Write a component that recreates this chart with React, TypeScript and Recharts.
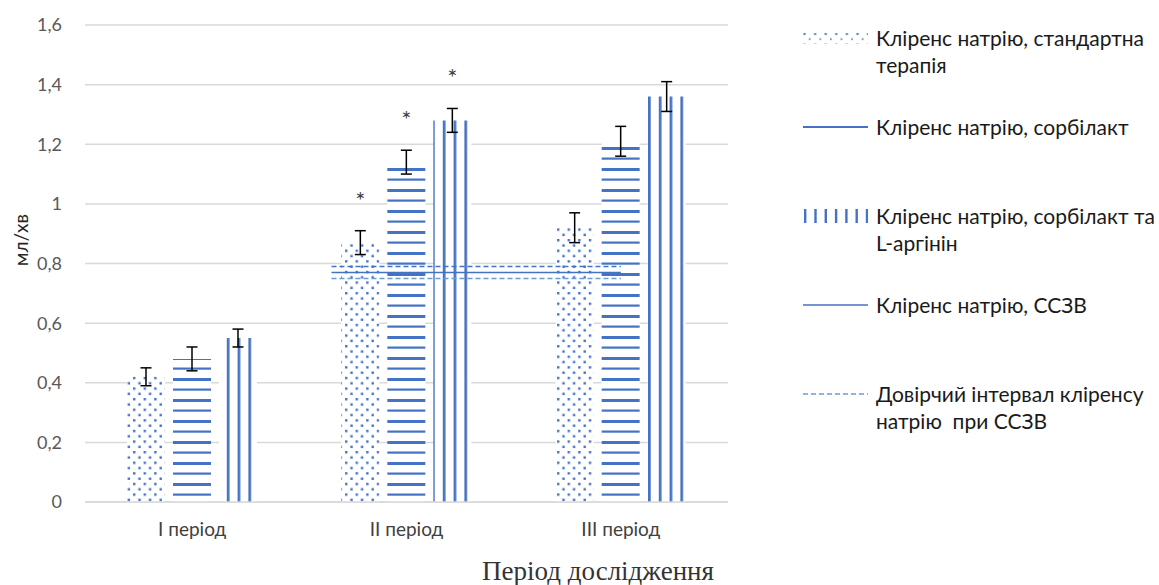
import React from 'react';
import { BarChart, Bar, XAxis, YAxis, CartesianGrid, ErrorBar, LabelList, ReferenceLine } from 'recharts';

const periods = ['I період', 'II період', 'III період'];

const standard = [0.42, 0.87, 0.92];
const standardErr = [0.03, 0.04, 0.05];
const standardMarks = ['', '*', ''];

const sorbilact = [0.48, 1.14, 1.21];
const sorbilactErr = [0.04, 0.04, 0.05];
const sorbilactMarks = ['', '*', ''];

const sorbilactArg = [0.55, 1.28, 1.36];
const sorbilactArgErr = [0.03, 0.04, 0.05];
const sorbilactArgMarks = ['', '*', ''];

// ССЗВ level and its confidence interval, drawn along part of the category axis (0..3)
const sszv = 0.77;
const sszvLow = 0.75;
const sszvHigh = 0.79;
const sszvFrom = 1.15;
const sszvTo = 2.5;

const yTicks = [0, 0.2, 0.4, 0.6, 0.8, 1, 1.2, 1.4, 1.6];

const legendItems = [
  { icon: 'dots', lines: ['Кліренс натрію, стандартна', 'терапія'] },
  { icon: 'hline', lines: ['Кліренс натрію, сорбілакт'] },
  { icon: 'vbars', lines: ['Кліренс натрію, сорбілакт та', 'L-аргінін'] },
  { icon: 'line', lines: ['Кліренс натрію, ССЗВ'] },
  { icon: 'dash', lines: ['Довірчий інтервал кліренсу', 'натрію  при ССЗВ'] },
];

const BLUE = '#4472C4';
const LIGHT_BLUE = '#6A9BD8';

const LegendIcon = ({ kind }: { kind: string }) => {
  if (kind === 'dots') {
    return (
      <svg width={65} height={12}>
        <rect x={0} y={0} width={65} height={12} fill="url(#dotsLegend)" />
      </svg>
    );
  }
  if (kind === 'vbars') {
    return (
      <svg width={65} height={14}>
        {[0, 1, 2, 3, 4, 5, 6].map(i => (
          <rect key={i} x={1 + i * 10.3} y={0} width={2.4} height={14} fill={BLUE} />
        ))}
      </svg>
    );
  }
  const stroke = kind === 'dash' ? LIGHT_BLUE : BLUE;
  return (
    <svg width={65} height={4}>
      <line x1={0} y1={2} x2={65} y2={2} stroke={stroke} strokeWidth={kind === 'hline' ? 2 : 1.6}
        strokeDasharray={kind === 'dash' ? '5 3' : undefined} />
    </svg>
  );
};

export default function App() {
  const data = periods.map((period, i) => ({
    period,
    pos: i + 0.5, // category centre on the hidden numeric axis
    standard: standard[i],
    standardErr: standardErr[i],
    standardMark: standardMarks[i],
    sorbilact: sorbilact[i],
    sorbilactErr: sorbilactErr[i],
    sorbilactMark: sorbilactMarks[i],
    sorbilactArg: sorbilactArg[i],
    sorbilactArgErr: sorbilactArgErr[i],
    sorbilactArgMark: sorbilactArgMarks[i],
  }));

  return (
    <div style={{ position: 'absolute', left: 0, top: 0, width: 1159, height: 585, background: '#fff', fontFamily: 'Lato, "Noto Sans", sans-serif' }}>
      <svg width={0} height={0} style={{ position: 'absolute' }}>
        <defs>
          <pattern id="dots" patternUnits="userSpaceOnUse" width={10.6} height={10.6}>
            <rect width={10.6} height={10.6} fill="#fff" />
            <rect x={0.5} y={0.5} width={2.4} height={2.4} fill={BLUE} />
            <rect x={5.8} y={5.8} width={2.4} height={2.4} fill={BLUE} />
          </pattern>
          <pattern id="dotsLegend" patternUnits="userSpaceOnUse" width={10.6} height={10.6}>
            <rect width={10.6} height={10.6} fill="#fff" />
            <rect x={0.5} y={1} width={2} height={2} fill={BLUE} />
            <rect x={5.8} y={6.3} width={1.6} height={1.6} fill={BLUE} />
          </pattern>
          <pattern id="hstripes" patternUnits="userSpaceOnUse" width={10} height={21}>
            <rect width={10} height={21} fill="#fff" />
            <rect x={0} y={0} width={10} height={3} fill={BLUE} />
            <rect x={0} y={10.5} width={10} height={2.2} fill={BLUE} />
          </pattern>
          <pattern id="vstripes" patternUnits="userSpaceOnUse" width={10.8} height={10}>
            <rect width={10.8} height={10} fill="#fff" />
            <rect x={0} y={0} width={2.7} height={10} fill={BLUE} />
          </pattern>
        </defs>
      </svg>

      <BarChart width={1159} height={585} data={data} margin={{ top: 25, right: 431, bottom: 3, left: 0 }}
        barSize={38} barGap={8}>
        <CartesianGrid vertical={false} stroke="#D9D9D9" strokeWidth={1.5} />
        <XAxis dataKey="period" height={80} interval={0} axisLine={{ stroke: '#D9D9D9', strokeWidth: 1.5 }}
          tickLine={false} tickSize={0} tickMargin={21} tick={{ fill: '#404040', fontSize: 19 }} />
        <XAxis xAxisId="num" dataKey="pos" type="number" domain={[0, 3]} allowDataOverflow hide />
        <YAxis width={85} domain={[0, 1.6]} ticks={yTicks} interval={0} axisLine={false} tickLine={false}
          tickSize={0} tickMargin={23} tick={{ fill: '#595959', fontSize: 18 }}
          tickFormatter={(v: number) => String(v).replace('.', ',')} />

        <Bar dataKey="standard" fill="url(#dots)" isAnimationActive={false}>
          <ErrorBar dataKey="standardErr" width={5.5} stroke="#000" strokeWidth={1.5} isAnimationActive={false} />
          <LabelList dataKey="standardMark" position="top" offset={34} fill="#404040" fontSize={24} />
        </Bar>
        <Bar dataKey="sorbilact" fill="url(#hstripes)" isAnimationActive={false}>
          <ErrorBar dataKey="sorbilactErr" width={5.5} stroke="#000" strokeWidth={1.5} isAnimationActive={false} />
          <LabelList dataKey="sorbilactMark" position="top" offset={34} fill="#404040" fontSize={24} />
        </Bar>
        <Bar dataKey="sorbilactArg" fill="url(#vstripes)" isAnimationActive={false}>
          <ErrorBar dataKey="sorbilactArgErr" width={5.5} stroke="#000" strokeWidth={1.5} isAnimationActive={false} />
          <LabelList dataKey="sorbilactArgMark" position="top" offset={34} fill="#404040" fontSize={24} />
        </Bar>

        <ReferenceLine xAxisId="num" ifOverflow="visible"
          segment={[{ x: sszvFrom, y: sszvHigh }, { x: sszvTo, y: sszvHigh }]}
          stroke={BLUE} strokeWidth={1.5} strokeDasharray="5 3" />
        <ReferenceLine xAxisId="num" ifOverflow="visible"
          segment={[{ x: sszvFrom, y: sszv }, { x: sszvTo, y: sszv }]}
          stroke={BLUE} strokeWidth={1.6} />
        <ReferenceLine xAxisId="num" ifOverflow="visible"
          segment={[{ x: sszvFrom, y: sszvLow }, { x: sszvTo, y: sszvLow }]}
          stroke={LIGHT_BLUE} strokeWidth={1.5} strokeDasharray="5 3" />
      </BarChart>

      <div style={{ position: 'absolute', left: 20, top: 240, transform: 'translate(-50%, -50%) rotate(-90deg)', fontSize: 19, color: '#262626', whiteSpace: 'nowrap', lineHeight: 1 }}>
        мл/хв
      </div>

      <div style={{ position: 'absolute', left: 598, top: 558, transform: 'translateX(-50%)', fontFamily: '"Liberation Serif", "Times New Roman", serif', fontSize: 27, lineHeight: '27px', color: '#333', whiteSpace: 'nowrap' }}>
        Період дослідження
      </div>

      <div style={{ position: 'absolute', left: 803, top: 24 }}>
        {legendItems.map((item, i) => (
          <div key={i} style={{ position: 'absolute', top: i * 89, left: 0, display: 'flex', alignItems: 'flex-start', width: 356 }}>
            <div style={{ width: 73, height: 27, display: 'flex', alignItems: 'center', flex: 'none' }}>
              <LegendIcon kind={item.icon} />
            </div>
            <div style={{ fontSize: 21, lineHeight: '27px', color: '#1a1a1a', whiteSpace: 'pre' }}>
              {item.lines.join('\n')}
            </div>
          </div>
        ))}
      </div>
    </div>
  );
}
